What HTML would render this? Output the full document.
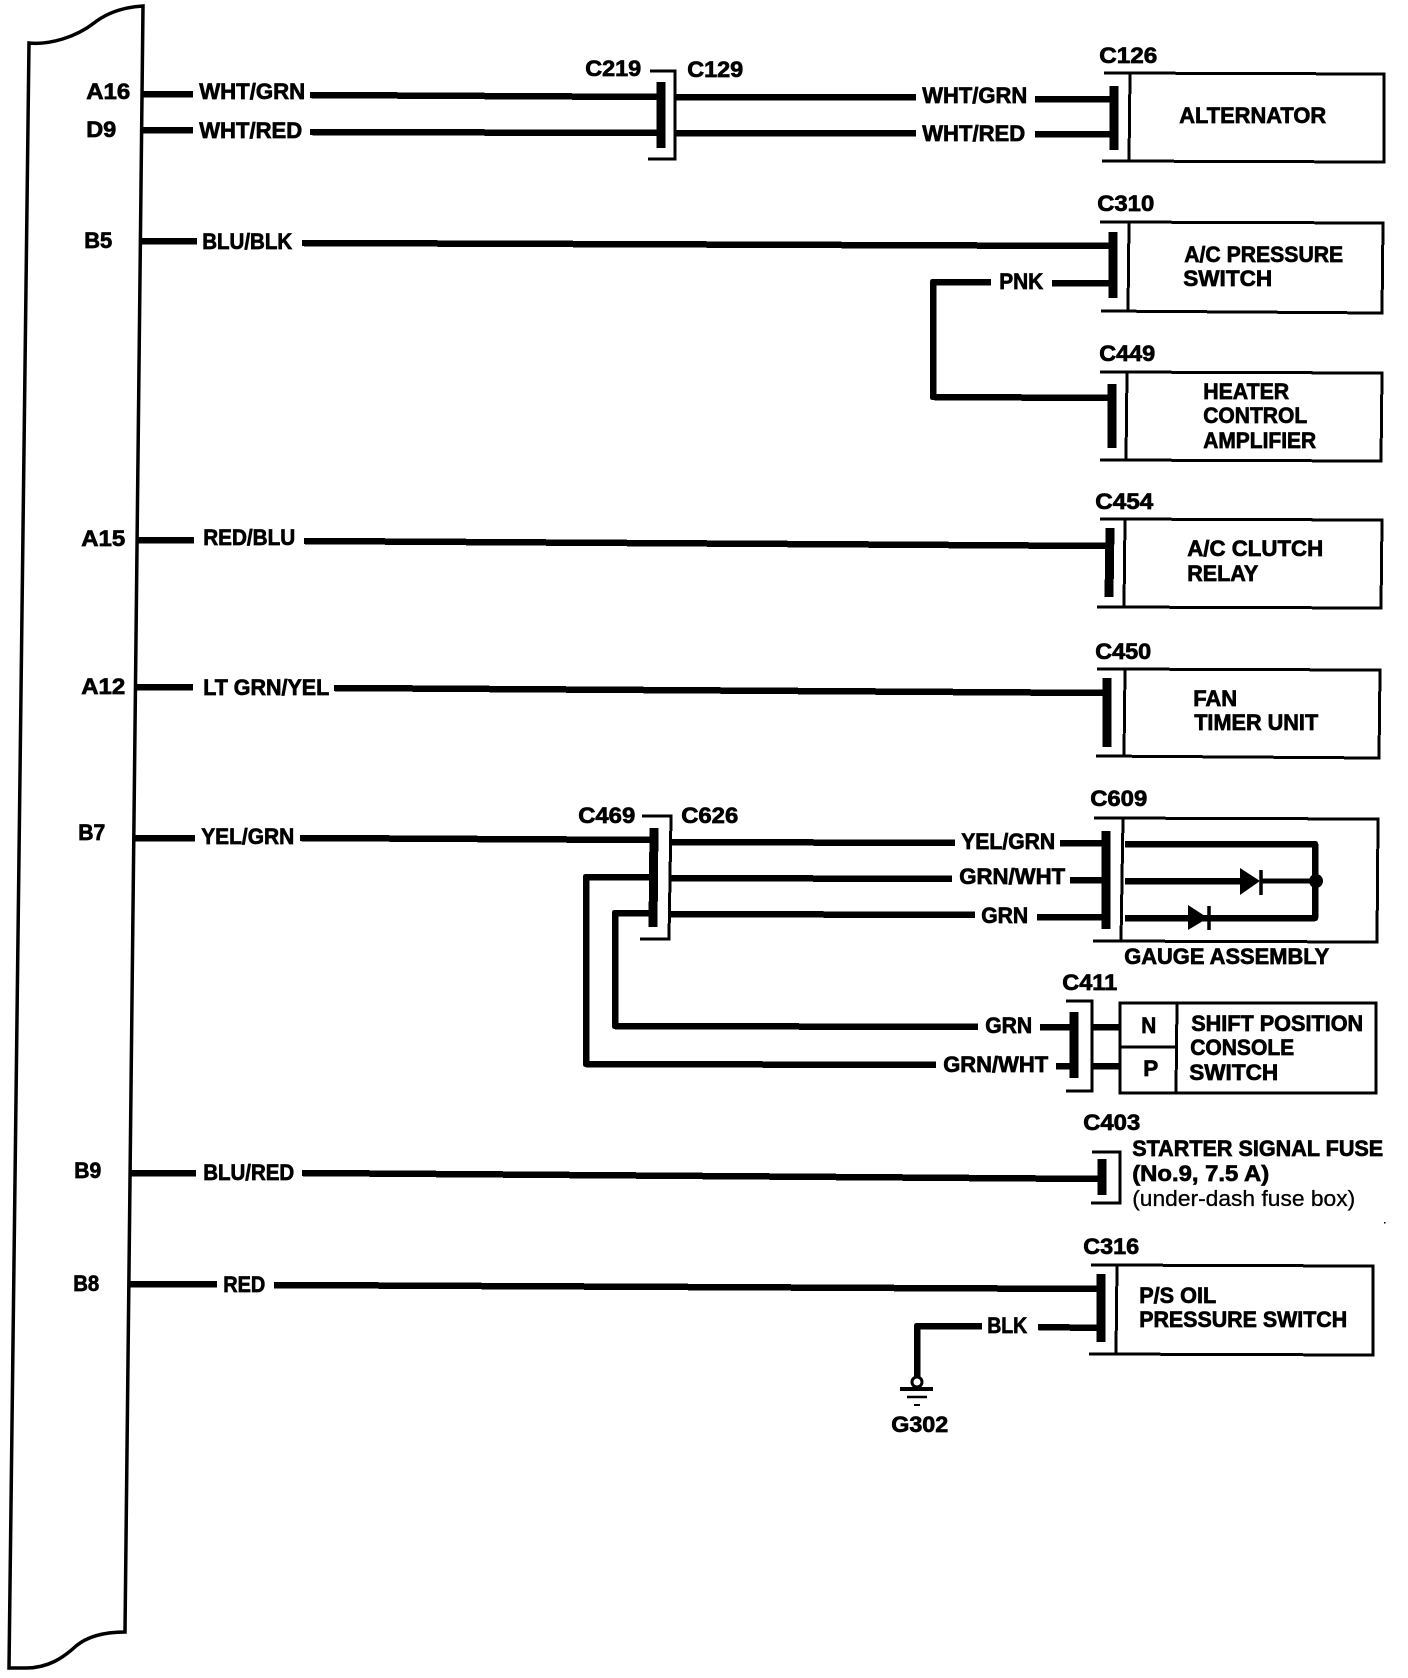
<!DOCTYPE html>
<html><head><meta charset="utf-8"><title>Wiring diagram</title>
<style>
html,body{margin:0;padding:0;background:#fff}
svg{display:block}
text{font-family:"Liberation Sans",Arial,sans-serif;font-weight:700;font-size:22px;fill:#000;stroke:#000;stroke-width:.7}
.r{font-weight:400;stroke-width:.3}
.w{fill:none;stroke:#000;stroke-width:6.5;stroke-linejoin:round;shape-rendering:crispEdges}
.b{fill:none;stroke:#000;stroke-width:9;shape-rendering:crispEdges}
.t{fill:none;stroke:#000;stroke-width:3;stroke-linejoin:miter;shape-rendering:crispEdges}
</style></head><body>
<svg xmlns="http://www.w3.org/2000/svg" width="1408" height="1678" viewBox="0 0 1408 1678">
<rect width="1408" height="1678" fill="#fff"/>

<!-- main unit outline -->
<path d="M29,43 C50,45 76,37 94,23 C108,12 125,7 143,6 L125,1632 C105,1632 88,1636 76,1646 C63,1658 48,1668 26,1668 L9,1668 Z" fill="none" stroke="#000" stroke-width="3.5"/>

<!-- A16 / D9 -->
<polyline class="w" points="143,94 193,94"/>
<polyline class="w" points="310,95 658,97"/>
<polyline class="w" points="143,130 193,130"/>
<polyline class="w" points="310,132 658,133"/>
<line class="b" x1="661" y1="82" x2="661" y2="148"/>
<polyline class="t" points="650,71 675,71 675,159 648,159"/>
<polyline class="w" points="676,97 916,97"/>
<polyline class="w" points="676,133 916,133"/>
<polyline class="w" points="1035,99 1114,99"/>
<polyline class="w" points="1035,134 1114,134"/>
<line class="b" x1="1114" y1="86" x2="1114" y2="150"/>
<polyline class="t" points="1104,73 1384,74 1384,162 1102,161"/>
<line class="t" x1="1130" y1="73" x2="1129" y2="161"/>

<!-- B5 -->
<polyline class="w" points="142,241 197,241"/>
<polyline class="w" points="302,243 1110,246"/>
<line class="b" x1="1113" y1="232" x2="1113" y2="298"/>
<polyline class="w" points="1052,283 1113,283"/>
<polyline class="w" points="991,282 933,282 933,397 1110,398"/>
<polyline class="t" points="1100,222 1383,223 1382,313 1101,311"/>
<line class="t" x1="1129" y1="222" x2="1128" y2="311"/>
<line class="b" x1="1112" y1="384" x2="1112" y2="448"/>
<polyline class="t" points="1100,372 1382,373 1381,461 1100,460"/>
<line class="t" x1="1127" y1="372" x2="1126" y2="460"/>

<!-- A15 -->
<polyline class="w" points="137,540 194,540"/>
<polyline class="w" points="304,541 1109,546"/>
<line class="b" x1="1110" y1="528" x2="1109" y2="597"/>
<polyline class="t" points="1100,519 1382,520 1381,608 1097,607"/>
<line class="t" x1="1125" y1="519" x2="1124" y2="607"/>

<!-- A12 -->
<polyline class="w" points="136,687 193,687"/>
<polyline class="w" points="334,688 1107,693"/>
<line class="b" x1="1107" y1="678" x2="1107" y2="747"/>
<polyline class="t" points="1097,669 1380,670 1379,758 1096,756"/>
<line class="t" x1="1125" y1="669" x2="1124" y2="756"/>

<!-- B7 -->
<polyline class="w" points="135,838 195,838"/>
<polyline class="w" points="300,838 654,840"/>
<line class="b" x1="654" y1="828" x2="653" y2="927"/>
<polyline class="t" points="642,816 671,816 669,939 640,939"/>
<polyline class="w" points="671,842 955,843"/>
<polyline class="w" points="671,878 952,879"/>
<polyline class="w" points="671,914 975,915"/>
<polyline class="w" points="1060,843 1106,843"/>
<polyline class="w" points="1070,880 1106,880"/>
<polyline class="w" points="1037,917 1106,917"/>
<polyline class="w" points="654,877 586,877 586,1064 936,1065"/>
<polyline class="w" points="654,913 615,913 615,1026 978,1027"/>
<line class="b" x1="1106" y1="831" x2="1106" y2="929"/>
<polyline class="t" points="1094,818 1378,819 1377,942 1093,941"/>
<line class="t" x1="1123" y1="818" x2="1121" y2="941"/>
<polyline class="w" points="1125,844 1315,844 1315,918 1125,918"/>
<polyline class="w" points="1125,881 1250,881"/>
<polyline class="t" style="stroke-width:5" points="1260,881 1318,881"/>
<circle cx="1316" cy="881" r="7" fill="#000"/>
<polygon points="1240,868 1260,881 1240,895" fill="#000"/>
<line x1="1261" y1="870" x2="1261" y2="895" stroke="#000" stroke-width="3.5"/>
<polygon points="1188,905 1208,918 1188,930" fill="#000"/>
<line x1="1209" y1="906" x2="1209" y2="930" stroke="#000" stroke-width="3.5"/>

<!-- C411 -->
<polyline class="w" points="1040,1027 1074,1027"/>
<polyline class="w" points="1056,1066 1074,1066"/>
<line class="b" x1="1074" y1="1012" x2="1074" y2="1078"/>
<polyline class="t" points="1066,1001 1092,1001 1092,1091 1066,1091"/>
<polyline class="w" points="1092,1027 1120,1027"/>
<polyline class="w" points="1092,1066 1120,1066"/>
<rect class="t" x="1120" y="1003" width="256" height="90"/>
<line class="t" x1="1177" y1="1003" x2="1176" y2="1093"/>
<line class="t" x1="1120" y1="1047" x2="1177" y2="1047"/>

<!-- B9 -->
<polyline class="w" points="130,1173 196,1173"/>
<polyline class="w" points="302,1173 1102,1179"/>
<line class="b" x1="1102" y1="1159" x2="1102" y2="1195"/>
<polyline class="t" points="1092,1152 1120,1152 1120,1203 1091,1203"/>

<!-- B8 -->
<polyline class="w" points="130,1284 217,1284"/>
<polyline class="w" points="274,1285 1100,1289"/>
<line class="b" x1="1101" y1="1274" x2="1101" y2="1342"/>
<polyline class="w" points="1038,1327 1101,1328"/>
<polyline class="w" points="982,1326 917,1326 917,1377"/>
<polyline class="t" points="1091,1265 1373,1266 1373,1355 1089,1354"/>
<line class="t" x1="1117" y1="1265" x2="1116" y2="1354"/>
<circle cx="917" cy="1382" r="5" fill="#fff" stroke="#000" stroke-width="3"/>
<line x1="900" y1="1389" x2="933" y2="1389" stroke="#000" stroke-width="4"/>
<line x1="907" y1="1397" x2="927" y2="1397" stroke="#000" stroke-width="2.5"/>
<line x1="914" y1="1405" x2="920" y2="1405" stroke="#000" stroke-width="2"/>

<g transform="translate(-0.8,-0.8)">
<!-- pin labels -->
<text x="87" y="100" textLength="44" lengthAdjust="spacingAndGlyphs">A16</text>
<text x="87" y="138" textLength="30" lengthAdjust="spacingAndGlyphs">D9</text>
<text x="85" y="249" textLength="28" lengthAdjust="spacingAndGlyphs">B5</text>
<text x="82" y="547" textLength="44" lengthAdjust="spacingAndGlyphs">A15</text>
<text x="82" y="695" textLength="44" lengthAdjust="spacingAndGlyphs">A12</text>
<text x="79" y="841" textLength="27" lengthAdjust="spacingAndGlyphs">B7</text>
<text x="75" y="1179" textLength="27" lengthAdjust="spacingAndGlyphs">B9</text>
<text x="74" y="1292" textLength="26" lengthAdjust="spacingAndGlyphs">B8</text>

<!-- wire labels -->
<text x="200" y="100" textLength="106" lengthAdjust="spacingAndGlyphs">WHT/GRN</text>
<text x="200" y="139" textLength="103" lengthAdjust="spacingAndGlyphs">WHT/RED</text>
<text x="923" y="104" textLength="105" lengthAdjust="spacingAndGlyphs">WHT/GRN</text>
<text x="923" y="142" textLength="103" lengthAdjust="spacingAndGlyphs">WHT/RED</text>
<text x="203" y="250" textLength="90" lengthAdjust="spacingAndGlyphs">BLU/BLK</text>
<text x="1000" y="290" textLength="44" lengthAdjust="spacingAndGlyphs">PNK</text>
<text x="204" y="546" textLength="92" lengthAdjust="spacingAndGlyphs">RED/BLU</text>
<text x="204" y="696" textLength="126" lengthAdjust="spacingAndGlyphs">LT GRN/YEL</text>
<text x="202" y="845" textLength="93" lengthAdjust="spacingAndGlyphs">YEL/GRN</text>
<text x="962" y="850" textLength="94" lengthAdjust="spacingAndGlyphs">YEL/GRN</text>
<text x="960" y="885" textLength="106" lengthAdjust="spacingAndGlyphs">GRN/WHT</text>
<text x="982" y="924" textLength="47" lengthAdjust="spacingAndGlyphs">GRN</text>
<text x="986" y="1034" textLength="47" lengthAdjust="spacingAndGlyphs">GRN</text>
<text x="944" y="1073" textLength="105" lengthAdjust="spacingAndGlyphs">GRN/WHT</text>
<text x="204" y="1181" textLength="91" lengthAdjust="spacingAndGlyphs">BLU/RED</text>
<text x="224" y="1293" textLength="42" lengthAdjust="spacingAndGlyphs">RED</text>
<text x="988" y="1334" textLength="40" lengthAdjust="spacingAndGlyphs">BLK</text>

<!-- connector labels -->
<text x="586" y="77" textLength="56" lengthAdjust="spacingAndGlyphs">C219</text>
<text x="688" y="78" textLength="56" lengthAdjust="spacingAndGlyphs">C129</text>
<text x="1100" y="64" textLength="58" lengthAdjust="spacingAndGlyphs">C126</text>
<text x="1098" y="212" textLength="57" lengthAdjust="spacingAndGlyphs">C310</text>
<text x="1100" y="362" textLength="56" lengthAdjust="spacingAndGlyphs">C449</text>
<text x="1096" y="510" textLength="58" lengthAdjust="spacingAndGlyphs">C454</text>
<text x="1096" y="660" textLength="56" lengthAdjust="spacingAndGlyphs">C450</text>
<text x="579" y="824" textLength="57" lengthAdjust="spacingAndGlyphs">C469</text>
<text x="682" y="824" textLength="57" lengthAdjust="spacingAndGlyphs">C626</text>
<text x="1091" y="807" textLength="57" lengthAdjust="spacingAndGlyphs">C609</text>
<text x="1063" y="991" textLength="55" lengthAdjust="spacingAndGlyphs">C411</text>
<text x="1084" y="1131" textLength="57" lengthAdjust="spacingAndGlyphs">C403</text>
<text x="1084" y="1255" textLength="56" lengthAdjust="spacingAndGlyphs">C316</text>
<text x="892" y="1433" textLength="57" lengthAdjust="spacingAndGlyphs">G302</text>

<!-- component labels -->
<text x="1180" y="124" textLength="147" lengthAdjust="spacingAndGlyphs">ALTERNATOR</text>
<text x="1185" y="263" textLength="159" lengthAdjust="spacingAndGlyphs">A/C PRESSURE</text>
<text x="1184" y="287" textLength="89" lengthAdjust="spacingAndGlyphs">SWITCH</text>
<text x="1204" y="400" textLength="86" lengthAdjust="spacingAndGlyphs">HEATER</text>
<text x="1204" y="424" textLength="104" lengthAdjust="spacingAndGlyphs">CONTROL</text>
<text x="1204" y="449" textLength="113" lengthAdjust="spacingAndGlyphs">AMPLIFIER</text>
<text x="1188" y="557" textLength="136" lengthAdjust="spacingAndGlyphs">A/C CLUTCH</text>
<text x="1188" y="582" textLength="71" lengthAdjust="spacingAndGlyphs">RELAY</text>
<text x="1194" y="707" textLength="44" lengthAdjust="spacingAndGlyphs">FAN</text>
<text x="1195" y="731" textLength="124" lengthAdjust="spacingAndGlyphs">TIMER UNIT</text>
<text x="1125" y="965" textLength="205" lengthAdjust="spacingAndGlyphs">GAUGE ASSEMBLY</text>
<text x="1142" y="1034" textLength="15" lengthAdjust="spacingAndGlyphs">N</text>
<text x="1144" y="1077" textLength="15" lengthAdjust="spacingAndGlyphs">P</text>
<text x="1192" y="1032" textLength="172" lengthAdjust="spacingAndGlyphs">SHIFT POSITION</text>
<text x="1191" y="1056" textLength="104" lengthAdjust="spacingAndGlyphs">CONSOLE</text>
<text x="1190" y="1081" textLength="89" lengthAdjust="spacingAndGlyphs">SWITCH</text>
<text x="1133" y="1157" textLength="251" lengthAdjust="spacingAndGlyphs">STARTER SIGNAL FUSE</text>
<text x="1133" y="1182" textLength="137" lengthAdjust="spacingAndGlyphs">(No.9, 7.5 A)</text>
<text class="r" x="1133" y="1207" textLength="223" lengthAdjust="spacingAndGlyphs">(under-dash fuse box)</text>
<text x="1140" y="1304" textLength="77" lengthAdjust="spacingAndGlyphs">P/S OIL</text>
<text x="1140" y="1328" textLength="208" lengthAdjust="spacingAndGlyphs">PRESSURE SWITCH</text>
</g>
<rect x="1384" y="1222" width="1.5" height="1.5" fill="#000"/>
</svg>
</body></html>
